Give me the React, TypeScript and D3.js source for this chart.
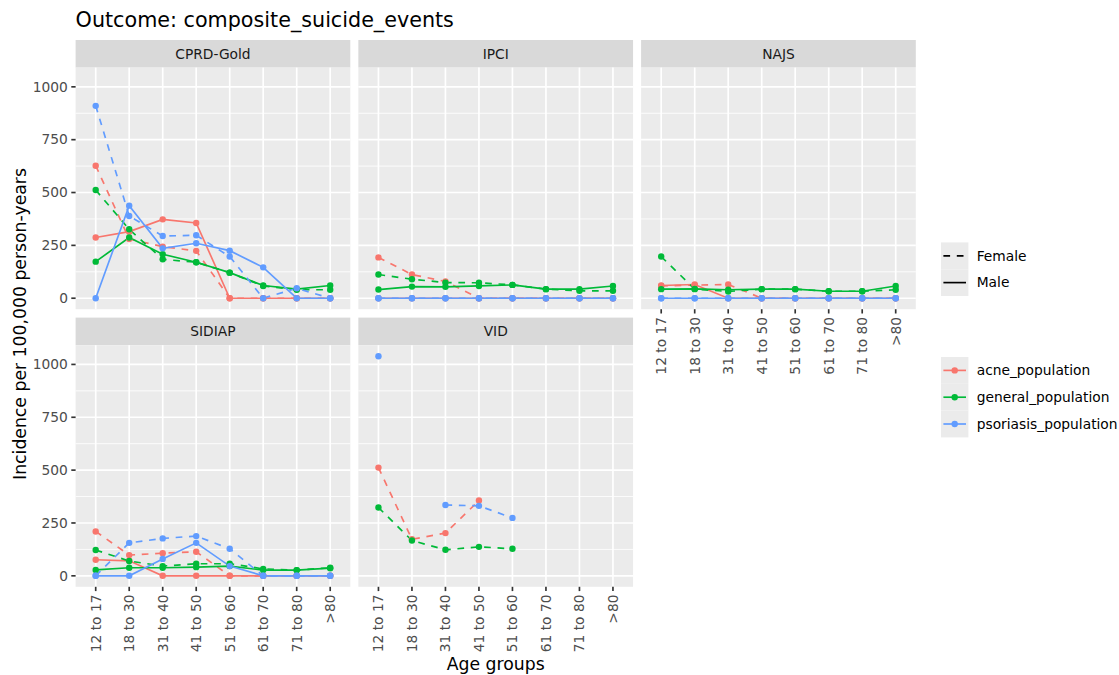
import React from "react";
import * as d3 from "d3";

// Category axes and facets
const ageGroups = ["12 to 17", "18 to 30", "31 to 40", "41 to 50", "51 to 60", "61 to 70", "71 to 80", ">80"];
const populations = ["acne_population", "general_population", "psoriasis_population"];
const sexes = ["Female", "Male"];
const databases = ["CPRD-Gold", "IPCI", "NAJS", "SIDIAP", "VID"];
const yTicks = [0, 250, 500, 750, 1000];

type Row = [string, string, (number | null)[]];

// Incidence per 100,000 person-years, one row per population x sex
const cprdGold: Row[] = [
  ["acne_population", "Female", [627, 280, 244, 224, 0, 0, 0, 0]],
  ["acne_population", "Male", [287, 315, 373, 356, 0, 0, 0, 0]],
  ["general_population", "Female", [512, 326, 184, 170, 121, 58, 40, 40]],
  ["general_population", "Male", [173, 287, 208, 170, 121, 60, 43, 60]],
  ["psoriasis_population", "Female", [910, 389, 294, 298, 197, 0, 47, 0]],
  ["psoriasis_population", "Male", [0, 438, 236, 260, 225, 146, 0, 0]],
];

const ipci: Row[] = [
  ["acne_population", "Female", [193, 112, 79, 0, 0, 0, 0, 0]],
  ["acne_population", "Male", [0, 0, 0, 0, 0, 0, 0, 0]],
  ["general_population", "Female", [112, 90, 74, 73, 63, 43, 35, 35]],
  ["general_population", "Male", [41, 55, 54, 58, 63, 43, 43, 58]],
  ["psoriasis_population", "Female", [0, 0, 0, 0, 0, 0, 0, 0]],
  ["psoriasis_population", "Male", [0, 0, 0, 0, 0, 0, 0, 0]],
];

const najs: Row[] = [
  ["acne_population", "Female", [58, 62, 65, 0, 0, 0, 0, 0]],
  ["acne_population", "Male", [60, 65, 0, 0, 0, 0, 0, 0]],
  ["general_population", "Female", [197, 43, 32, 43, 43, 33, 33, 40]],
  ["general_population", "Male", [43, 44, 40, 43, 43, 33, 33, 58]],
  ["psoriasis_population", "Female", [0, 0, 0, 0, 0, 0, 0, 0]],
  ["psoriasis_population", "Male", [0, 0, 0, 0, 0, 0, 0, 0]],
];

const sidiap: Row[] = [
  ["acne_population", "Female", [210, 98, 107, 114, 0, 0, 0, 0]],
  ["acne_population", "Male", [76, 71, 0, 0, 0, 0, 0, 0]],
  ["general_population", "Female", [122, 70, 46, 57, 57, 33, 27, 38]],
  ["general_population", "Male", [28, 38, 38, 41, 46, 27, 27, 36]],
  ["psoriasis_population", "Female", [0, 156, 177, 188, 128, 0, 0, 0]],
  ["psoriasis_population", "Male", [0, 0, 80, 156, 46, 0, 0, 0]],
];

const vid: Row[] = [
  ["acne_population", "Female", [512, 173, 202, 356, null, null, null, null]],
  ["general_population", "Female", [323, 167, 123, 137, 128, null, null, null]],
  ["psoriasis_population", "Female", [1039, null, 335, 331, 274, null, null, null]],
];

const rowsByDb: Record<string, Row[]> = {
  "CPRD-Gold": cprdGold,
  IPCI: ipci,
  NAJS: najs,
  SIDIAP: sidiap,
  VID: vid,
};

const colors = ["#F8766D", "#00BA38", "#619CFF"];
const colorOf = d3.scaleOrdinal<string, string>().domain(populations).range(colors);
const dashOf = (sex: string) => (sex === "Female" ? "6.7,6.7" : null);

// Layout
const W = 1119;
const H = 675;
const FONT = "DejaVu Sans, Verdana, sans-serif";
const panelLeft = 75.6;
const panelW = 274.7;
const colGap = 8.05;
const stripTop = 40;
const stripH = 27.6;
const panelH = 241.6;
const rowGap = 8.4;
const tickLen = 4.3;
const lineW = 1.67;
const pointR = 3.2;

const allValues = databases.flatMap((db) => rowsByDb[db].flatMap((r) => r[2].filter((v): v is number => v != null)));
const [vMin, vMax] = d3.extent(allValues) as [number, number];
const pad = (vMax - vMin) * 0.05;

const x = d3.scalePoint<string>().domain(ageGroups).range([0, panelW]).padding(0.6);
const y = d3.scaleLinear().domain([vMin - pad, vMax + pad]).range([panelH, 0]);
const minorTicks = yTicks.slice(0, -1).map((t, i) => (t + yTicks[i + 1]) / 2);

const line = d3
  .line<number | null>()
  .defined((d) => d != null)
  .x((_, i) => x(ageGroups[i]) as number)
  .y((d) => y(d as number));

function Panel({ db, idx }: { db: string; idx: number }) {
  const col = idx % 3;
  const row = Math.floor(idx / 3);
  const left = panelLeft + col * (panelW + colGap);
  const top = stripTop + row * (stripH + panelH + rowGap);
  const pTop = top + stripH;
  const rows = rowsByDb[db];
  const showYAxis = col === 0;
  const showXAxis = row === 1 || idx + 3 >= databases.length;
  return (
    <g>
      <rect x={left} y={top} width={panelW} height={stripH} fill="#D9D9D9" />
      <text
        x={left + panelW / 2}
        y={top + stripH / 2}
        dy="0.35em"
        textAnchor="middle"
        fontSize={13.8}
        fill="#1A1A1A"
        fontFamily={FONT}
      >
        {db}
      </text>
      <g transform={`translate(${left},${pTop})`}>
        <rect width={panelW} height={panelH} fill="#EBEBEB" />
        {minorTicks.map((t) => (
          <line key={"m" + t} x1={0} x2={panelW} y1={y(t)} y2={y(t)} stroke="#FFFFFF" strokeWidth={0.84} />
        ))}
        {yTicks.map((t) => (
          <line key={"y" + t} x1={0} x2={panelW} y1={y(t)} y2={y(t)} stroke="#FFFFFF" strokeWidth={1.67} />
        ))}
        {ageGroups.map((g) => (
          <line key={"x" + g} x1={x(g)} x2={x(g)} y1={0} y2={panelH} stroke="#FFFFFF" strokeWidth={1.67} />
        ))}
        {rows.map(([pop, sex, vals]) => (
          <path
            key={"l" + pop + sex}
            d={line(vals) || ""}
            fill="none"
            stroke={colorOf(pop)}
            strokeWidth={lineW}
            strokeDasharray={dashOf(sex) || undefined}
          />
        ))}
        {rows.map(([pop, sex, vals]) =>
          vals.map((v, i) =>
            v == null ? null : (
              <circle key={"p" + pop + sex + i} cx={x(ageGroups[i])} cy={y(v)} r={pointR} fill={colorOf(pop)} />
            )
          )
        )}
        {showYAxis &&
          yTicks.map((t) => (
            <g key={"yt" + t}>
              <line x1={-tickLen} x2={0} y1={y(t)} y2={y(t)} stroke="#333333" strokeWidth={1.67} />
              <text
                x={-tickLen - 3.4}
                y={y(t)}
                dy="0.35em"
                textAnchor="end"
                fontSize={13.8}
                fill="#4D4D4D"
                fontFamily={FONT}
              >
                {t}
              </text>
            </g>
          ))}
        {showXAxis &&
          ageGroups.map((g) => (
            <g key={"xt" + g}>
              <line x1={x(g)} x2={x(g)} y1={panelH} y2={panelH + tickLen} stroke="#333333" strokeWidth={1.67} />
              <text
                transform={`translate(${x(g)},${panelH + tickLen + 3.4}) rotate(-90)`}
                dy="0.35em"
                textAnchor="end"
                fontSize={13.8}
                fill="#4D4D4D"
                fontFamily={FONT}
              >
                {g}
              </text>
            </g>
          ))}
      </g>
    </g>
  );
}

function Legends() {
  const kx = 941;
  const kw = 27.4;
  const kh = 26.8;
  const tx = 976.7;
  const ltTop = 242.4;
  const colTop = 357;
  return (
    <g fontFamily={FONT} fontSize={13.8}>
      {sexes.map((s, i) => {
        const cy = ltTop + kh * i + kh / 2;
        return (
          <g key={s}>
            <rect x={kx} y={ltTop + kh * i} width={kw} height={kh} fill="#EBEBEB" />
            <line
              x1={kx + 2.4}
              x2={kx + kw - 2.4}
              y1={cy}
              y2={cy}
              stroke="#000000"
              strokeWidth={lineW}
              strokeDasharray={dashOf(s) || undefined}
            />
            <text x={tx} y={cy} dy="0.35em" fill="#000000">
              {s}
            </text>
          </g>
        );
      })}
      {populations.map((p, i) => {
        const cy = colTop + kh * i + kh / 2;
        return (
          <g key={p}>
            <rect x={kx} y={colTop + kh * i} width={kw} height={kh} fill="#EBEBEB" />
            <line x1={kx + 2.4} x2={kx + kw - 2.4} y1={cy} y2={cy} stroke={colorOf(p)} strokeWidth={lineW} />
            <circle cx={kx + kw / 2} cy={cy} r={pointR} fill={colorOf(p)} />
            <text x={tx} y={cy} dy="0.35em" fill="#000000">
              {p}
            </text>
          </g>
        );
      })}
    </g>
  );
}

export default function App() {
  const gridRight = panelLeft + 3 * panelW + 2 * colGap;
  return (
    <svg
      width={W}
      height={H}
      viewBox={`0 0 ${W} ${H}`}
      style={{ position: "absolute", left: 0, top: 0, background: "#FFFFFF" }}
    >
      <rect width={W} height={H} fill="#FFFFFF" />
      <text x={panelLeft} y={26.6} fontSize={20.7} fontFamily={FONT} fill="#000000">
        Outcome: composite_suicide_events
      </text>
      {databases.map((db, i) => (
        <Panel key={db} db={db} idx={i} />
      ))}
      <text
        x={(panelLeft + gridRight) / 2}
        y={669.5}
        textAnchor="middle"
        fontSize={17.25}
        fontFamily={FONT}
        fill="#000000"
      >
        Age groups
      </text>
      <text
        transform={`translate(25.5,324) rotate(-90)`}
        textAnchor="middle"
        fontSize={17.25}
        fontFamily={FONT}
        fill="#000000"
      >
        Incidence per 100,000 person-years
      </text>
      <Legends />
    </svg>
  );
}
